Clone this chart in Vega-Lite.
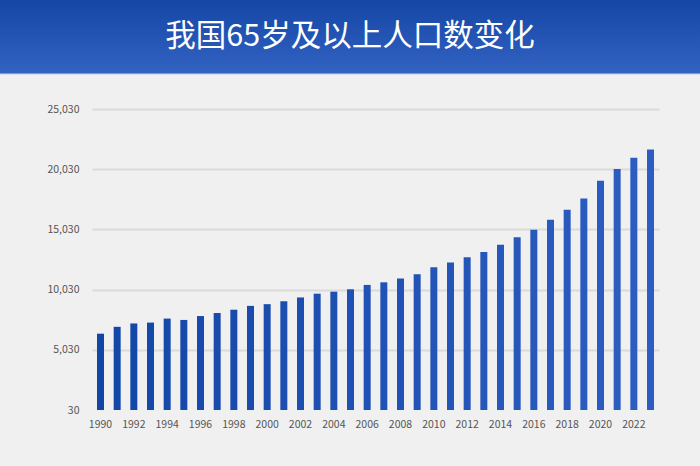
{
  "$schema": "https://vega.github.io/schema/vega-lite/v6.json",
  "padding": 0,
  "spacing": 0,
  "background": "#f0f0f0",
  "config": {
    "view": {"stroke": null},
    "font": "Noto Sans CJK SC"
  },
  "vconcat": [
    {
      "width": 700,
      "height": 75,
      "view": {
        "fill": {
          "gradient": "linear",
          "x1": 0, "y1": 0, "x2": 0, "y2": 1,
          "stops": [
            {"offset": 0, "color": "#1446a5"},
            {"offset": 0.975, "color": "#3363c2"},
            {"offset": 0.985, "color": "#c6d3ee"},
            {"offset": 1, "color": "#e4e9f3"}
          ]
        },
        "stroke": null
      },
      "data": {"values": [{"title": "我国65岁及以上人口数变化"}]},
      "mark": {
        "type": "text",
        "font": "Noto Sans CJK SC",
        "fontSize": 30.5,
        "fontWeight": "normal",
        "color": "#ffffff",
        "align": "center",
        "baseline": "middle",
        "dy": -1
      },
      "encoding": {
        "text": {"field": "title", "type": "nominal"}
      }
    },
    {
      "width": 700,
      "height": 391,
      "data": {
        "values": [
          {"year": 1990, "pop": 6368},
          {"year": 1991, "pop": 6938},
          {"year": 1992, "pop": 7218},
          {"year": 1993, "pop": 7289},
          {"year": 1994, "pop": 7622},
          {"year": 1995, "pop": 7510},
          {"year": 1996, "pop": 7833},
          {"year": 1997, "pop": 8085},
          {"year": 1998, "pop": 8359},
          {"year": 1999, "pop": 8679},
          {"year": 2000, "pop": 8821},
          {"year": 2001, "pop": 9062},
          {"year": 2002, "pop": 9377},
          {"year": 2003, "pop": 9692},
          {"year": 2004, "pop": 9857},
          {"year": 2005, "pop": 10055},
          {"year": 2006, "pop": 10419},
          {"year": 2007, "pop": 10636},
          {"year": 2008, "pop": 10956},
          {"year": 2009, "pop": 11307},
          {"year": 2010, "pop": 11894},
          {"year": 2011, "pop": 12288},
          {"year": 2012, "pop": 12714},
          {"year": 2013, "pop": 13161},
          {"year": 2014, "pop": 13755},
          {"year": 2015, "pop": 14386},
          {"year": 2016, "pop": 15003},
          {"year": 2017, "pop": 15831},
          {"year": 2018, "pop": 16658},
          {"year": 2019, "pop": 17603},
          {"year": 2020, "pop": 19064},
          {"year": 2021, "pop": 20056},
          {"year": 2022, "pop": 20978},
          {"year": 2023, "pop": 21676}
        ]
      },
      "mark": {"type": "bar"},
      "encoding": {
        "x": {
          "field": "year",
          "type": "ordinal",
          "sort": "ascending",
          "scale": {"range": [92, 659], "paddingInner": 0.58, "paddingOuter": 0.3},
          "axis": {
            "title": null,
            "values": [1990, 1992, 1994, 1996, 1998, 2000, 2002, 2004, 2006, 2008, 2010, 2012, 2014, 2016, 2018, 2020, 2022],
            "labelAngle": 0,
            "labelFont": "Noto Sans CJK SC",
            "labelFontSize": 10.5,
            "labelColor": "#555555",
            "labelPadding": 9,
            "offset": -56,
            "domain": false,
            "ticks": false,
            "grid": false
          }
        },
        "y": {
          "field": "pop",
          "type": "quantitative",
          "scale": {"domain": [30, 25030], "range": [335, 34], "zero": false, "nice": false},
          "axis": {
            "title": null,
            "values": [30, 5030, 10030, 15030, 20030, 25030],
            "format": ",.0f",
            "labelFont": "Noto Sans CJK SC",
            "labelFontSize": 10.5,
            "labelColor": "#555555",
            "labelPadding": 13,
            "offset": -92,
            "domain": false,
            "ticks": false,
            "grid": true,
            "gridColor": "#dadada",
            "gridWidth": 1.8,
            "gridOpacity": {"condition": {"test": "datum.value === 30", "value": 0}, "value": 1}
          }
        },
        "y2": {"datum": 30},
        "color": {
          "field": "year",
          "type": "quantitative",
          "scale": {"range": ["#1146a7", "#2c5dc2"]},
          "legend": null
        }
      }
    }
  ]
}
